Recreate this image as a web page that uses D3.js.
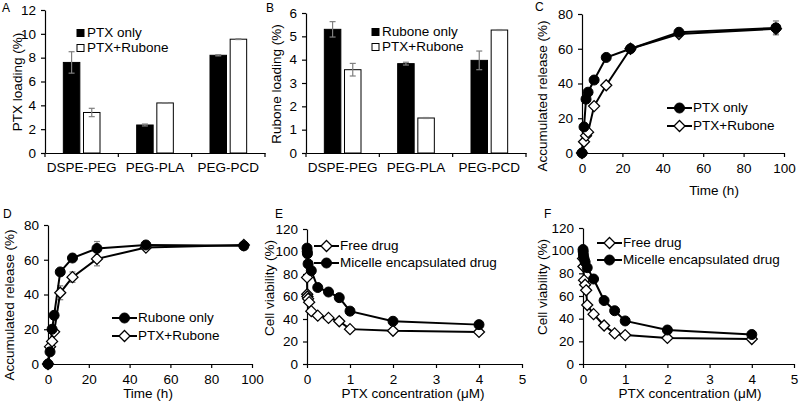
<!DOCTYPE html>
<html><head><meta charset="utf-8">
<script src="https://cdn.jsdelivr.net/npm/d3@7"></script>
<style>
body{margin:0;background:#fff;}
svg{display:block;font-family:"Liberation Sans",Arial,sans-serif;}
</style></head>
<body><svg id="c" width="800" height="402"></svg>
<script>
// ---------- DATA ----------
const barCategories = ["DSPE-PEG", "PEG-PLA", "PEG-PCD"];
const ptxLoadingPtxOnly = [7.6, 2.35, 8.2];
const ptxLoadingPtxOnlyErr = [0.9, 0.08, 0.05];
const ptxLoadingCombo = [3.4, 4.2, 9.55];
const ptxLoadingComboErr = [0.35, 0.03, 0.03];
const ruboneLoadingRuboneOnly = [5.3, 3.83, 3.97];
const ruboneLoadingRuboneOnlyErr = [0.33, 0.06, 0.4];
const ruboneLoadingCombo = [3.57, 1.5, 5.27];
const ruboneLoadingComboErr = [0.27, 0.02, 0.02];

const releaseTimes = [0, 1, 2, 3, 6, 12, 24, 48, 96];
const ptxReleasePtxOnly = [0, 15, 31, 35, 42, 55, 60, 69.5, 72];
const ptxReleasePtxOnlyErr = [0, 0, 0, 0, 0, 0, 0, 1.5, 4];
const ptxReleaseCombo = [0, 6.5, 10, 12, 27, 39, 60, 68.5, 71.5];
const ptxReleaseComboErr = [0, 0, 0, 0, 0, 0, 0, 1.5, 3];
const ruboneReleaseRuboneOnly = [0, 7, 20, 28, 53, 61, 66.5, 68.5, 68];
const ruboneReleaseRuboneOnlyErr = [0, 0, 0, 0, 0, 0, 4, 1, 1];
const ruboneReleaseCombo = [0, 10, 13, 18.5, 41, 50, 60.5, 67, 68.5];
const ruboneReleaseComboErr = [0, 0, 0, 0, 4, 3, 4, 1, 1];

const concE_free = [0.001, 0.005, 0.01, 0.025, 0.05, 0.1, 0.25, 0.5, 0.75, 1, 2, 4];
const viabE_free = [77, 62, 60, 58, 55, 47, 43, 41, 38, 31, 29.5, 28.5];
const concE_mic = [0.001, 0.005, 0.01, 0.025, 0.1, 0.25, 0.5, 0.75, 1, 2, 4];
const viabE_mic = [103, 100, 98, 89, 83, 68, 64, 59, 47, 38, 35];
const concF_free = [0.001, 0.01, 0.025, 0.05, 0.075, 0.1, 0.25, 0.5, 0.75, 1, 2, 4];
const viabF_free = [93, 86, 74, 70, 65, 52, 44, 34, 27, 25.5, 23, 22];
const concF_mic = [0.001, 0.005, 0.01, 0.025, 0.05, 0.1, 0.25, 0.5, 0.75, 1, 2, 4];
const viabF_mic = [101, 99, 96, 93, 90, 85, 75, 56, 47, 38, 30, 26];

// ---------- DRAW ----------
const svg = d3.select("#c");
const FS = "13.5px";
const ERR = "#7f7f7f";
const fmt = d3.format("d");

function styleAxis(g) {
  g.selectAll("path,line").attr("stroke", "#000").attr("stroke-width", 1.2);
  g.selectAll("text").attr("font-size", FS).attr("fill", "#000").attr("font-family", "Liberation Sans, Arial, sans-serif");
}

function yAxis(y, x0, ticks) {
  const g = svg.append("g").attr("transform", `translate(${x0},0)`)
    .call(d3.axisLeft(y).tickValues(ticks).tickFormat(fmt).tickSize(4).tickPadding(5).tickSizeOuter(0));
  styleAxis(g);
}

function panelLetter(t, x, yv) {
  svg.append("text").attr("x", x).attr("y", yv).attr("font-size", "12px").text(t);
}
function yTitle(t, x, yc) {
  svg.append("text").attr("transform", `translate(${x},${yc}) rotate(-90)`)
    .attr("text-anchor", "middle").attr("dominant-baseline", "middle").attr("font-size", FS).text(t);
}
function xTitle(t, xc, yv) {
  svg.append("text").attr("x", xc).attr("y", yv).attr("text-anchor", "middle")
    .attr("dominant-baseline", "middle").attr("font-size", FS).text(t);
}

function barPanel(o) {
  const x = d3.scaleBand().domain(barCategories).range(o.xr);
  const y = d3.scaleLinear().domain([0, o.ymax]).range(o.yr);
  const bw = x.bandwidth() * 0.225, gap = x.bandwidth() * 0.05;
  const series = [
    {v: o.a, e: o.ae, fill: "#000", off: -gap / 2 - bw},
    {v: o.b, e: o.be, fill: "#fff", off: gap / 2}
  ];
  series.forEach(s => {
    barCategories.forEach((c, i) => {
      const cx = x(c) + x.bandwidth() / 2 + s.off;
      svg.append("rect").attr("x", cx).attr("y", y(s.v[i])).attr("width", bw)
        .attr("height", y(0) - y(s.v[i])).attr("fill", s.fill).attr("stroke", "#000").attr("stroke-width", 1);
      const m = cx + bw / 2;
      const y1 = y(s.v[i] + s.e[i]), y2 = y(s.v[i] - s.e[i]);
      svg.append("line").attr("x1", m).attr("x2", m).attr("y1", y1).attr("y2", y2).attr("stroke", ERR).attr("stroke-width", 1.2);
      [y1, y2].forEach(yy => svg.append("line").attr("x1", m - 3).attr("x2", m + 3).attr("y1", yy).attr("y2", yy).attr("stroke", ERR).attr("stroke-width", 1.2));
    });
  });
  yAxis(y, o.xr[0], d3.range(0, o.ymax + 0.001, o.ystep));
  const gx = svg.append("g").attr("transform", `translate(0,${o.yr[0]})`)
    .call(d3.axisBottom(x).tickSize(0).tickPadding(9).tickSizeOuter(0));
  styleAxis(gx);
  const bounds = barCategories.map(c => x(c)).concat([x(barCategories[barCategories.length - 1]) + x.step()]);
  bounds.forEach(b => svg.append("line").attr("x1", b).attr("x2", b).attr("y1", o.yr[0]).attr("y2", o.yr[0] + 4).attr("stroke", "#000").attr("stroke-width", 1.2));
  o.legend.forEach((t, i) => {
    const ly = o.ly + i * o.ldy;
    svg.append("rect").attr("x", o.lx).attr("y", ly - 3.5).attr("width", 7).attr("height", 7)
      .attr("fill", i === 0 ? "#000" : "#fff").attr("stroke", "#000").attr("stroke-width", 1);
    svg.append("text").attr("x", o.lx + 10).attr("y", ly).attr("dominant-baseline", "middle").attr("font-size", FS).text(t);
  });
}

function marker(g, type, cx, cy) {
  if (type === "circle") {
    g.append("circle").attr("cx", cx).attr("cy", cy).attr("r", 5).attr("fill", "#000").attr("stroke", "#000");
  } else {
    const s = 5.5;
    g.append("path").attr("d", `M${cx},${cy - s}L${cx + s},${cy}L${cx},${cy + s}L${cx - s},${cy}Z`)
      .attr("fill", "#fff").attr("stroke", "#000").attr("stroke-width", 1.3);
  }
}

function linePanel(o) {
  const x = d3.scaleLinear().domain([0, o.xmax]).range(o.xr);
  const y = d3.scaleLinear().domain([0, o.ymax]).range(o.yr);
  const gx = svg.append("g").attr("transform", `translate(0,${o.yr[0]})`)
    .call(d3.axisBottom(x).tickValues(d3.range(0, o.xmax + 0.001, o.xstep)).tickFormat(fmt).tickSize(4).tickPadding(6).tickSizeOuter(0));
  styleAxis(gx);
  yAxis(y, o.xr[0], d3.range(0, o.ymax + 0.001, o.ystep));
  const line = d3.line().x(d => x(d[0])).y(d => y(d[1]));
  o.series.forEach(s => {
    const pts = s.x.map((v, i) => [v, s.y[i]]);
    if (s.e) s.x.forEach((v, i) => {
      if (!s.e[i]) return;
      const m = x(v), y1 = y(s.y[i] + s.e[i]), y2 = y(s.y[i] - s.e[i]);
      svg.append("line").attr("x1", m).attr("x2", m).attr("y1", y1).attr("y2", y2).attr("stroke", ERR).attr("stroke-width", 1.2);
      [y1, y2].forEach(yy => svg.append("line").attr("x1", m - 3).attr("x2", m + 3).attr("y1", yy).attr("y2", yy).attr("stroke", ERR).attr("stroke-width", 1.2));
    });
    svg.append("path").datum(pts).attr("d", line).attr("fill", "none").attr("stroke", "#000").attr("stroke-width", 2);
  });
  o.series.forEach(s => {
    const g = svg.append("g");
    s.x.forEach((v, i) => marker(g, s.type, x(v), y(s.y[i])));
  });
  o.legendOrder.forEach((si, i) => {
    const s = o.series[si];
    const ly = o.ly + i * o.ldy;
    svg.append("line").attr("x1", o.lx).attr("x2", o.lx + 25).attr("y1", ly).attr("y2", ly).attr("stroke", "#000").attr("stroke-width", 2);
    marker(svg.append("g"), s.type, o.lx + 12.5, ly);
    svg.append("text").attr("x", o.lx + 26).attr("y", ly).attr("dominant-baseline", "middle").attr("font-size", FS).text(s.name);
  });
}

// Panel A
barPanel({xr: [45, 265], yr: [153, 10], ymax: 12, ystep: 2,
  a: ptxLoadingPtxOnly, ae: ptxLoadingPtxOnlyErr, b: ptxLoadingCombo, be: ptxLoadingComboErr,
  legend: ["PTX only", "PTX+Rubone"], lx: 77, ly: 33, ldy: 15});
panelLetter("A", 2, 12);
yTitle("PTX loading (%)", 18, 82);

// Panel B
barPanel({xr: [306, 526], yr: [153, 13], ymax: 6, ystep: 1,
  a: ruboneLoadingRuboneOnly, ae: ruboneLoadingRuboneOnlyErr, b: ruboneLoadingCombo, be: ruboneLoadingComboErr,
  legend: ["Rubone only", "PTX+Rubone"], lx: 372, ly: 32, ldy: 15});
panelLetter("B", 266, 12);
yTitle("Rubone loading (%)", 277, 84);

// Panel C
linePanel({xr: [582, 784], yr: [153, 14], xmax: 100, xstep: 20, ymax: 80, ystep: 20,
  series: [
    {name: "PTX+Rubone", type: "diamond", x: releaseTimes, y: ptxReleaseCombo, e: ptxReleaseComboErr},
    {name: "PTX only", type: "circle", x: releaseTimes, y: ptxReleasePtxOnly, e: ptxReleasePtxOnlyErr}
  ], legendOrder: [1, 0], lx: 667, ly: 108, ldy: 18});
panelLetter("C", 535, 11);
yTitle("Accumulated release (%)", 543, 96);
xTitle("Time (h)", 714, 191);

// Panel D
linePanel({xr: [48, 252], yr: [364, 225], xmax: 100, xstep: 20, ymax: 80, ystep: 20,
  series: [
    {name: "PTX+Rubone", type: "diamond", x: releaseTimes, y: ruboneReleaseCombo, e: ruboneReleaseComboErr},
    {name: "Rubone only", type: "circle", x: releaseTimes, y: ruboneReleaseRuboneOnly, e: ruboneReleaseRuboneOnlyErr}
  ], legendOrder: [1, 0], lx: 112, ly: 318, ldy: 18});
panelLetter("D", 3, 218);
yTitle("Accumulated release (%)", 10, 305);
xTitle("Time (h)", 148, 394);

// Panel E
linePanel({xr: [307, 522], yr: [364, 229], xmax: 5, xstep: 1, ymax: 120, ystep: 20,
  series: [
    {name: "Free drug", type: "diamond", x: concE_free, y: viabE_free},
    {name: "Micelle encapsulated drug", type: "circle", x: concE_mic, y: viabE_mic}
  ], legendOrder: [0, 1], lx: 314, ly: 246, ldy: 17});
panelLetter("E", 275, 218);
yTitle("Cell viability (%)", 270, 288);
xTitle("PTX concentration (\u03BCM)", 413, 394);

// Panel F
linePanel({xr: [583, 794], yr: [364, 228], xmax: 5, xstep: 1, ymax: 120, ystep: 20,
  series: [
    {name: "Free drug", type: "diamond", x: concF_free, y: viabF_free},
    {name: "Micelle encapsulated drug", type: "circle", x: concF_mic, y: viabF_mic}
  ], legendOrder: [0, 1], lx: 597, ly: 243, ldy: 17});
panelLetter("F", 544, 218);
yTitle("Cell viability (%)", 543, 287);
xTitle("PTX concentration (\u03BCM)", 690, 394);
</script></body></html>
